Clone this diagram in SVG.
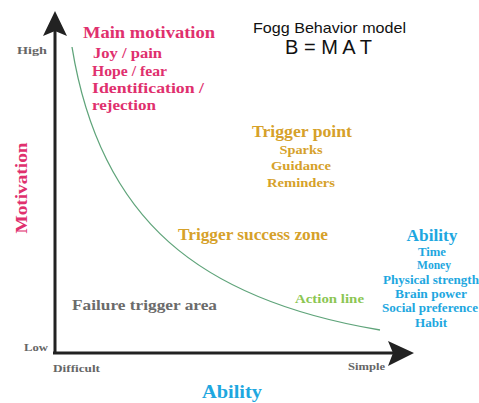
<svg xmlns="http://www.w3.org/2000/svg" width="479" height="403" viewBox="0 0 479 403">
  <style>
    .serif { font-family: "Liberation Serif", "Times New Roman", serif; font-weight: bold; }
    .sans { font-family: "Liberation Sans", Arial, sans-serif; }
    .pink { fill: #e0306e; }
    .gold { fill: #d6a12a; }
    .blue { fill: #1ea7e0; }
    .gray { fill: #6b6b6b; }
    .tick { fill: #666666; font-size: 10px; }
    .axis { stroke: #222222; stroke-width: 3; fill: none; }
  </style>
  <rect width="479" height="403" fill="#ffffff"/>

  <!-- axes and the action line -->
  <g id="connectors">
    <line class="axis" x1="55" y1="354" x2="55" y2="30"/>
    <polygon points="55,11 67,36 55,31 43,36" fill="#222222"/>
    <line class="axis" x1="53" y1="353" x2="395" y2="353"/>
    <polygon points="414,353 388,341 393,353 388,366" fill="#222222"/>
    <path id="action-line" d="M72,47 C100,220 200,300 380,330" fill="none" stroke="#5fa47a" stroke-width="1.3"/>
  </g>

  <g id="title">
    <text class="sans" x="253" y="33" font-size="15" fill="#111" textLength="153" lengthAdjust="spacingAndGlyphs">Fogg Behavior model</text>
    <text class="sans" x="285" y="54" font-size="20" fill="#111" textLength="87" lengthAdjust="spacing">B = M A T</text>
  </g>

  <g id="axis-labels" class="serif">
    <text class="tick" x="17" y="54" textLength="30" lengthAdjust="spacingAndGlyphs">High</text>
    <text class="tick" x="24" y="351" textLength="24" lengthAdjust="spacingAndGlyphs">Low</text>
    <text class="tick" x="53" y="372" textLength="47" lengthAdjust="spacingAndGlyphs">Difficult</text>
    <text class="tick" x="348" y="370" textLength="37" lengthAdjust="spacingAndGlyphs">Simple</text>
    <text class="pink" font-size="17" transform="translate(27,188) rotate(-90)" text-anchor="middle" textLength="91" lengthAdjust="spacingAndGlyphs">Motivation</text>
    <text class="blue" font-size="18" x="232" y="398" text-anchor="middle" textLength="60" lengthAdjust="spacingAndGlyphs">Ability</text>
  </g>

  <g id="main-motivation" class="serif pink">
    <text x="83" y="38" font-size="17" textLength="132" lengthAdjust="spacingAndGlyphs">Main motivation</text>
    <text x="93" y="58" font-size="14" textLength="69" lengthAdjust="spacingAndGlyphs">Joy / pain</text>
    <text x="92" y="76" font-size="14" textLength="75" lengthAdjust="spacingAndGlyphs">Hope / fear</text>
    <text x="92" y="93" font-size="14" textLength="112" lengthAdjust="spacingAndGlyphs">Identification /</text>
    <text x="92" y="110" font-size="14" textLength="64" lengthAdjust="spacingAndGlyphs">rejection</text>
  </g>

  <g id="trigger-point" class="serif gold" text-anchor="middle">
    <text x="302" y="137" font-size="16" textLength="100" lengthAdjust="spacingAndGlyphs">Trigger point</text>
    <text x="301" y="154" font-size="13" textLength="43" lengthAdjust="spacingAndGlyphs">Sparks</text>
    <text x="301" y="170" font-size="13" textLength="60" lengthAdjust="spacingAndGlyphs">Guidance</text>
    <text x="301" y="187" font-size="13" textLength="68" lengthAdjust="spacingAndGlyphs">Reminders</text>
  </g>

  <g id="trigger-success-zone" class="serif gold">
    <text x="178" y="240" font-size="16" textLength="150" lengthAdjust="spacingAndGlyphs">Trigger success zone</text>
  </g>

  <g id="ability-factors" class="serif blue" text-anchor="middle">
    <text x="432" y="241" font-size="16" textLength="51" lengthAdjust="spacingAndGlyphs">Ability</text>
    <text x="432" y="256" font-size="12" textLength="28" lengthAdjust="spacingAndGlyphs">Time</text>
    <text x="434" y="269" font-size="12" textLength="34" lengthAdjust="spacingAndGlyphs">Money</text>
    <text x="431" y="284" font-size="12" textLength="96" lengthAdjust="spacingAndGlyphs">Physical strength</text>
    <text x="431" y="298" font-size="12" textLength="72" lengthAdjust="spacingAndGlyphs">Brain power</text>
    <text x="430" y="312" font-size="12" textLength="96" lengthAdjust="spacingAndGlyphs">Social preference</text>
    <text x="431" y="327" font-size="12" textLength="32" lengthAdjust="spacingAndGlyphs">Habit</text>
  </g>

  <g id="action-line-label" class="serif">
    <text x="295" y="303" font-size="13" fill="#8cc653" textLength="69" lengthAdjust="spacingAndGlyphs">Action line</text>
  </g>

  <g id="failure-trigger-area" class="serif gray">
    <text x="72" y="310" font-size="15" textLength="145" lengthAdjust="spacingAndGlyphs">Failure trigger area</text>
  </g>
</svg>
